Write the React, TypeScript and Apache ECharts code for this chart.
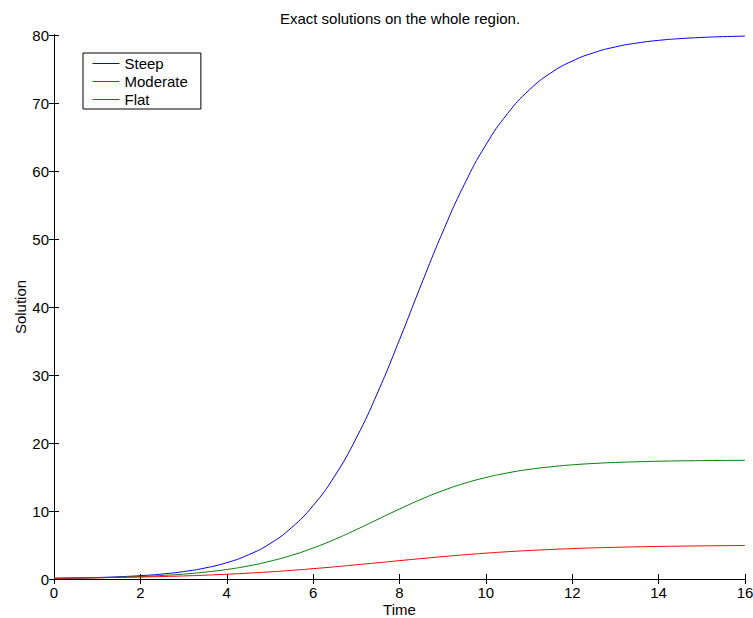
import React, { useEffect, useRef } from "react";
import * as echarts from "echarts";

// Time samples (step 0.5) and the three solution curves
const time: number[] = [
  0, 0.5, 1, 1.5, 2, 2.5, 3, 3.5, 4, 4.5, 5, 5.5, 6, 6.5, 7, 7.5, 8, 8.5, 9, 9.5,
  10, 10.5, 11, 11.5, 12, 12.5, 13, 13.5, 14, 14.5, 15, 15.5, 16,
];

const steep: number[] = [
  0.1, 0.15, 0.22, 0.33, 0.49, 0.73, 1.09, 1.62, 2.4, 3.55, 5.2, 7.55, 10.8,
  15.15, 20.74, 27.51, 35.18, 43.24, 51.02, 58.01, 63.85, 68.43, 71.89, 74.4,
  76.17, 77.4, 78.25, 78.82, 79.21, 79.47, 79.64, 79.76, 79.84,
];

const moderate: number[] = [
  0.09, 0.13, 0.18, 0.26, 0.37, 0.52, 0.72, 1.01, 1.4, 1.92, 2.61, 3.48, 4.56,
  5.83, 7.26, 8.78, 10.29, 11.72, 12.99, 14.06, 14.92, 15.6, 16.12, 16.5, 16.79,
  16.99, 17.14, 17.24, 17.32, 17.37, 17.41, 17.44, 17.45,
];

const flat: number[] = [
  0.11, 0.14, 0.18, 0.23, 0.29, 0.36, 0.45, 0.56, 0.7, 0.86, 1.05, 1.27, 1.52,
  1.79, 2.09, 2.39, 2.7, 3.0, 3.29, 3.56, 3.8, 4.01, 4.19, 4.34, 4.47, 4.58,
  4.66, 4.73, 4.79, 4.83, 4.87, 4.9, 4.92,
];

const seriesNames = ["Steep", "Moderate", "Flat"];
const seriesColors = ["#0000ff", "#008000", "#ff0000"];

const FONT = "Liberation Sans, Arial, Helvetica, sans-serif";
const FS = 15;

export default function App() {
  const ref = useRef<HTMLDivElement>(null);

  useEffect(() => {
    if (!ref.current) return;
    const chart = echarts.init(ref.current, undefined, { renderer: "svg" });

    const pairs = (ys: number[]) => time.map((t, i) => [t, ys[i]]);
    const allSeries = [steep, moderate, flat].map((ys, i) => ({
      name: seriesNames[i],
      type: "line" as const,
      data: pairs(ys),
      symbol: "none",
      showSymbol: false,
      smooth: true,
      color: seriesColors[i],
      lineStyle: { color: seriesColors[i], width: 1 },
      itemStyle: { color: seriesColors[i] },
      xAxisIndex: 0,
      yAxisIndex: 0,
    }));

    const tickCommon = {
      show: true,
      inside: true,
      length: 5,
      lineStyle: { color: "#000", width: 1 },
    };
    const lineCommon = { show: true, lineStyle: { color: "#000", width: 1 } };

    chart.setOption({
      animation: false,
      backgroundColor: "#fff",
      grid: {
        left: 54,
        right: 8,
        top: 35,
        bottom: 39,
        containLabel: false,
        outerBoundsMode: "none",
      },
      graphic: [
        {
          type: "text",
          x: 400,
          y: 18,
          style: {
            text: "Exact solutions on the whole region.",
            fontFamily: FONT,
            fontSize: FS,
            fill: "#000",
            align: "center",
            verticalAlign: "middle",
          },
        },
      ],
      legend: {
        orient: "vertical",
        left: 83,
        top: 53,
        itemWidth: 27,
        itemHeight: 14,
        itemGap: 3,
        padding: [3, 13, 2, 9],
        borderColor: "#000",
        borderWidth: 1,
        backgroundColor: "#fff",
        // plain 1px line sample, no marker dot
        lineStyle: { width: 1 },
        itemStyle: { opacity: 0 },
        data: seriesNames,
        textStyle: {
          fontFamily: FONT,
          fontSize: FS,
          color: "#000",
        },
      },
      xAxis: [
        {
          type: "value",
          min: 0,
          max: 16,
          interval: 2,
          position: "bottom",
          name: "Time",
          nameLocation: "middle",
          nameGap: 23,
          nameMoveOverlap: false,
          nameTextStyle: { fontFamily: FONT, fontSize: FS, color: "#000" },
          axisLine: lineCommon,
          axisTick: tickCommon,
          axisLabel: { fontFamily: FONT, fontSize: FS, color: "#000", margin: 6 },
          splitLine: { show: false },
        },
        {
          type: "value",
          min: 0,
          max: 16,
          interval: 2,
          position: "top",
          axisLine: lineCommon,
          axisTick: tickCommon,
          axisLabel: { show: false },
          splitLine: { show: false },
        },
      ],
      yAxis: [
        {
          type: "value",
          min: 0,
          max: 80,
          interval: 10,
          position: "left",
          name: "Solution",
          nameLocation: "middle",
          nameGap: 26,
          nameMoveOverlap: false,
          nameRotate: 90,
          nameTextStyle: { fontFamily: FONT, fontSize: FS, color: "#000" },
          axisLine: lineCommon,
          axisTick: tickCommon,
          axisLabel: { fontFamily: FONT, fontSize: FS, color: "#000", margin: 5 },
          splitLine: { show: false },
        },
        {
          type: "value",
          min: 0,
          max: 80,
          interval: 10,
          position: "right",
          axisLine: lineCommon,
          axisTick: tickCommon,
          axisLabel: { show: false },
          splitLine: { show: false },
        },
      ],
      series: allSeries,
    });

    return () => chart.dispose();
  }, []);

  return (
    <div
      ref={ref}
      style={{ position: "fixed", left: 0, top: 0, width: 753, height: 618 }}
    />
  );
}
